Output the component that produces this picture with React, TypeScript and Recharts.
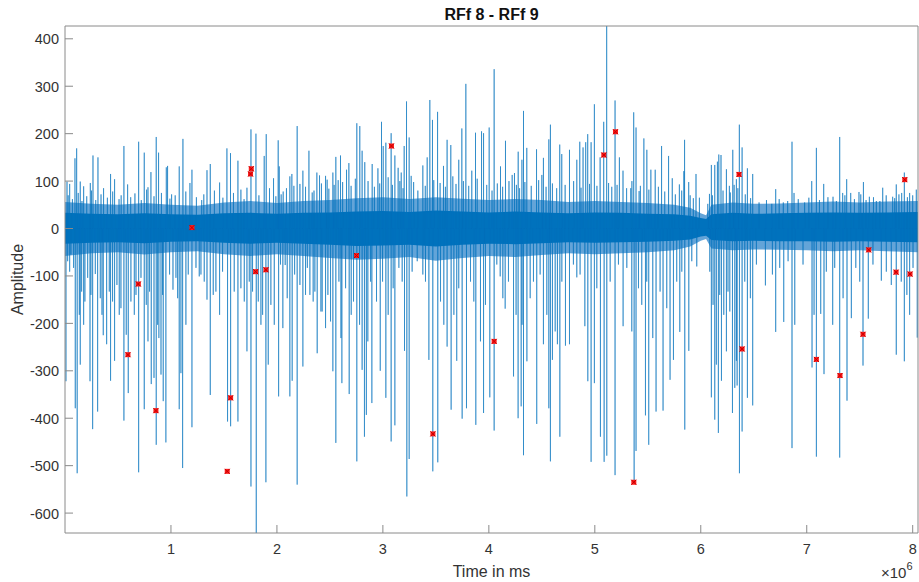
import React from 'react';
import { ComposedChart, Line, Area, Scatter, XAxis, YAxis, ReferenceLine } from 'recharts';

// time values are in units of 10^6 ms (axis shows "x10^6")
const bandT = [0, 0.25, 0.5, 0.75, 1.0, 1.25, 1.5, 1.75, 2.0, 2.25, 2.5, 2.75, 3.0, 3.25, 3.5, 3.75, 4.0, 4.25, 4.5, 4.75, 5.0, 5.25, 5.5, 5.75, 5.9, 6.0, 6.05, 6.1, 6.3, 6.5, 6.75, 7.0, 7.25, 7.5, 7.75, 8.05];
const coreHi = [33, 31, 30, 32, 30, 29, 32, 33, 31, 33, 34, 36, 37, 35, 38, 36, 34, 36, 34, 32, 34, 33, 31, 30, 27, 22, 20, 30, 33, 31, 32, 33, 34, 33, 34, 35];
const coreLo = [-32, -30, -29, -31, -28, -27, -30, -32, -30, -32, -34, -37, -36, -34, -38, -34, -32, -33, -31, -29, -30, -29, -28, -26, -23, -17, -15, -24, -27, -26, -27, -27, -28, -27, -28, -29];
const fringeHi = [56, 52, 50, 54, 50, 48, 55, 58, 54, 58, 60, 64, 66, 62, 66, 63, 60, 62, 60, 56, 58, 56, 54, 50, 44, 32, 28, 50, 55, 52, 53, 55, 57, 55, 57, 58];
const fringeLo = [-58, -52, -50, -55, -50, -48, -54, -58, -54, -58, -62, -66, -64, -60, -68, -62, -58, -60, -56, -52, -54, -52, -50, -46, -38, -26, -22, -42, -46, -44, -45, -46, -48, -46, -48, -50];

const posT = [
  0.019, 0.044, 0.094, 0.110, 0.144, 0.176, 0.239, 0.264, 0.311, 0.364, 0.430, 0.468, 0.556, 0.591, 0.695, 0.748,
  0.783, 0.811, 0.861, 0.883, 0.956, 0.968, 1.006, 1.078, 1.113, 1.179, 1.198, 1.340, 1.371, 1.459, 1.528, 1.562,
  1.632, 1.717, 1.755, 1.802, 1.880, 1.899, 1.968, 2.012, 2.022, 2.059, 2.122, 2.141, 2.191, 2.217, 2.245, 2.302,
  2.333, 2.377, 2.402, 2.459, 2.474, 2.528, 2.556, 2.578, 2.600, 2.657, 2.679, 2.754, 2.782, 2.804, 2.829, 2.899,
  2.953, 2.987, 3.003, 3.028, 3.078, 3.113, 3.144, 3.173, 3.201, 3.223, 3.248, 3.267, 3.377, 3.418, 3.443, 3.468,
  3.516, 3.572, 3.606, 3.641, 3.716, 3.745, 3.783, 3.839, 3.874, 3.931, 3.950, 4.003, 4.050, 4.110, 4.157, 4.220,
  4.242, 4.277, 4.312, 4.327, 4.358, 4.450, 4.500, 4.515, 4.566, 4.581, 4.669, 4.688, 4.761, 4.830, 4.858, 4.889,
  4.914, 4.933, 4.965, 4.996, 5.050, 5.084, 5.112, 5.191, 5.232, 5.266, 5.339, 5.367, 5.389, 5.418, 5.463, 5.491,
  5.529, 5.570, 5.630, 5.696, 5.731, 5.798, 5.840, 5.847, 5.886, 5.955, 5.987, 6.066, 6.082, 6.100, 6.132, 6.157,
  6.170, 6.191, 6.242, 6.279, 6.302, 6.315, 6.336, 6.364, 6.390, 6.440, 6.490, 6.707, 6.779, 6.861, 6.880, 7.047,
  7.091, 7.160, 7.248, 7.311, 7.339, 7.377, 7.415, 7.493, 7.535, 7.591, 7.657, 7.717, 7.811, 7.845, 7.896, 7.921,
  7.971, 8.034,
];
const posV = [
  99, 94, 148, 169, 99, 89, 96, 154, 150, 85, 115, 104, 174, 93, 183, 160,
  87, 119, 193, 160, 129, 132, 72, 131, 189, 96, 124, 123, 136, 97, 169, 159,
  143, 86, 209, 200, 153, 199, 106, 186, 131, 78, 110, 115, 216, 94, 122, 164,
  76, 118, 112, 111, 103, 118, 151, 102, 154, 124, 138, 222, 216, 164, 140, 136,
  127, 225, 174, 181, 201, 154, 128, 118, 174, 268, 192, 111, 133, 150, 271, 229,
  246, 132, 187, 176, 145, 211, 305, 122, 202, 205, 201, 213, 336, 131, 185, 113,
  117, 162, 145, 248, 170, 167, 113, 149, 188, 219, 177, 157, 166, 145, 183, 171,
  182, 199, 182, 262, 150, 225, 470, 270, 150, 122, 85, 245, 213, 79, 190, 166,
  124, 124, 174, 153, 106, 93, 121, 187, 98, 115, 65, 52, 73, 134, 134, 141,
  156, 155, 125, 76, 166, 92, 104, 219, 171, 127, 115, 83, 55, 183, 75, 100,
  170, 94, 67, 193, 75, 104, 75, 77, 98, 67, 58, 86, 67, 93, 75, 118,
  75, 82,
];

// smaller upward excursions that thicken the fringe above the core
const medPosT = [
  0.03, 0.07, 0.125, 0.16, 0.205, 0.25, 0.29, 0.34, 0.40, 0.45, 0.51, 0.53, 0.62, 0.66, 0.72, 0.77,
  0.84, 0.91, 0.99, 1.04, 1.14, 1.24, 1.29, 1.31, 1.41, 1.49, 1.59, 1.66, 1.69, 1.83, 1.93, 1.99,
  2.04, 2.09, 2.16, 2.27, 2.35, 2.42, 2.49, 2.54, 2.62, 2.70, 2.74, 2.86, 2.92, 2.97, 3.05, 3.09,
  3.16, 3.19, 3.29, 3.33, 3.40, 3.48, 3.54, 3.59, 3.66, 3.69, 3.76, 3.81, 3.89, 3.98, 4.03, 4.08,
  4.13, 4.19, 4.26, 4.29, 4.34, 4.40, 4.47, 4.54, 4.60, 4.64, 4.72, 4.80, 4.87, 4.95, 5.02, 5.13,
  5.16, 5.21, 5.30, 5.35, 5.43, 5.51, 5.60, 5.66, 5.76, 5.82, 5.90, 5.93, 6.11, 6.21, 6.27, 6.35,
  6.42, 6.47, 6.55, 6.62, 6.67, 6.74, 6.82, 6.92, 6.98, 7.02, 7.12, 7.20, 7.28, 7.36, 7.45, 7.51,
  7.56, 7.63, 7.69, 7.75, 7.83, 7.87, 7.95, 8.00,
];
const medPosV = [
  70, 62, 75, 58, 68, 80, 60, 72, 65, 78, 62, 70, 66, 74, 60, 82,
  68, 75, 63, 70, 78, 66, 60, 72, 80, 65, 75, 82, 62, 70, 85, 68,
  72, 85, 90, 88, 80, 95, 84, 92, 98, 90, 105, 100, 88, 95, 108, 92,
  100, 85, 98, 80, 90, 102, 96, 88, 110, 94, 100, 90, 105, 92, 80, 95,
  88, 100, 92, 85, 98, 90, 102, 88, 95, 85, 92, 100, 86, 94, 90, 96,
  88, 92, 85, 100, 90, 82, 88, 78, 72, 80, 70, 64, 70, 80, 90, 85,
  72, 64, 55, 60, 52, 62, 58, 62, 55, 65, 60, 66, 58, 70, 62, 72,
  60, 66, 58, 70, 64, 72, 66, 70,
];

const negT = [
  0.009, 0.044, 0.097, 0.115, 0.135, 0.144, 0.176, 0.236, 0.261, 0.286, 0.308, 0.361, 0.393, 0.430, 0.468, 0.512,
  0.556, 0.578, 0.597, 0.654, 0.695, 0.748, 0.783, 0.814, 0.840, 0.861, 0.886, 0.906, 0.927, 0.952, 1.019, 1.078,
  1.094, 1.110, 1.141, 1.198, 1.267, 1.340, 1.371, 1.399, 1.459, 1.534, 1.563, 1.632, 1.717, 1.755, 1.805, 1.849,
  1.896, 1.918, 2.016, 2.056, 2.078, 2.122, 2.144, 2.191, 2.245, 2.270, 2.311, 2.380, 2.415, 2.459, 2.528, 2.556,
  2.604, 2.613, 2.682, 2.723, 2.754, 2.804, 2.826, 2.844, 2.896, 2.975, 3.028, 3.078, 3.113, 3.204, 3.226, 3.248,
  3.377, 3.434, 3.471, 3.518, 3.606, 3.644, 3.697, 3.748, 3.789, 3.877, 3.921, 3.950, 4.009, 4.050, 4.107, 4.154,
  4.233, 4.276, 4.305, 4.327, 4.359, 4.452, 4.515, 4.566, 4.581, 4.600, 4.647, 4.670, 4.723, 4.761, 4.830, 4.906,
  4.934, 4.965, 4.996, 5.053, 5.088, 5.113, 5.191, 5.267, 5.371, 5.389, 5.478, 5.509, 5.547, 5.578, 5.644, 5.710,
  5.742, 5.802, 5.849, 5.887, 5.962, 6.085, 6.100, 6.132, 6.147, 6.166, 6.195, 6.242, 6.274, 6.299, 6.321, 6.343,
  6.365, 6.390, 6.440, 6.490, 6.610, 6.707, 6.783, 6.861, 6.887, 7.050, 7.091, 7.132, 7.163, 7.245, 7.311, 7.380,
  7.421, 7.531, 7.581, 7.704, 7.845, 7.921, 7.971, 8.043,
];
const negV = [
  -322, -91, -379, -516, -182, -287, -203, -322, -423, -96, -386, -225, -244, -321, -279, -182,
  -405, -224, -347, -182, -514, -381, -238, -328, -315, -456, -231, -308, -364, -451, -129, -381,
  -305, -505, -203, -419, -101, -150, -351, -140, -182, -407, -417, -407, -259, -544, -660, -203,
  -535, -287, -354, -210, -77, -354, -321, -540, -291, -140, -140, -263, -175, -210, -301, -452,
  -231, -326, -349, -154, -491, -298, -439, -393, -368, -300, -357, -449, -415, -258, -565, -486,
  -97, -277, -512, -493, -249, -382, -279, -401, -379, -414, -238, -389, -356, -426, -101, -169,
  -312, -400, -375, -478, -280, -412, -244, -379, -491, -277, -244, -439, -247, -244, -103, -206,
  -322, -492, -326, -439, -492, -479, -520, -206, -535, -469, -394, -456, -231, -386, -384, -319,
  -277, -218, -424, -258, -80, -91, -356, -403, -287, -431, -321, -259, -175, -389, -336, -331,
  -516, -428, -357, -373, -120, -218, -197, -463, -203, -293, -481, -180, -307, -203, -483, -363,
  -189, -289, -190, -110, -266, -280, -182, -230,
];

// smaller downward excursions below the core
const medNegT = [
  0.025, 0.056, 0.081, 0.157, 0.188, 0.214, 0.245, 0.333, 0.349, 0.418, 0.449, 0.490, 0.528, 0.622, 0.670, 0.717,
  0.767, 0.798, 0.874, 0.921, 0.987, 1.047, 1.063, 1.163, 1.236, 1.283, 1.314, 1.424, 1.487, 1.597, 1.660, 1.692,
  1.739, 1.770, 1.824, 1.865, 1.943, 1.975, 2.034, 2.097, 2.167, 2.217, 2.287, 2.342, 2.358, 2.427, 2.481, 2.506,
  2.585, 2.648, 2.701, 2.780, 2.858, 2.884, 2.940, 2.997, 3.050, 3.097, 3.151, 3.182, 3.276, 3.324, 3.402, 3.544,
  3.575, 3.670, 3.716, 3.827, 3.858, 3.968, 4.075, 4.132, 4.185, 4.257, 4.314, 4.390, 4.421, 4.484, 4.547, 4.626,
  4.689, 4.798, 4.861, 5.019, 5.145, 5.223, 5.302, 5.349, 5.412, 5.443, 5.490, 5.616, 5.679, 5.773, 5.821, 5.915,
  6.116, 6.179, 6.217, 6.257, 6.336, 6.415, 6.468, 6.525, 6.676, 6.745, 6.824, 6.965, 7.069, 7.185, 7.264, 7.343,
  7.463, 7.500, 7.625, 7.751, 7.798, 7.892, 7.945, 8.003,
];
const medNegV = [
  -69, -55, -83, -133, -154, -104, -140, -147, -182, -133, -154, -119, -168, -154, -140, -104,
  -161, -133, -203, -140, -97, -104, -147, -97, -83, -97, -112, -133, -91, -133, -126, -154,
  -112, -133, -154, -182, -161, -203, -76, -147, -97, -119, -83, -154, -133, -175, -140, -196,
  -112, -126, -182, -203, -238, -112, -154, -112, -182, -126, -83, -112, -91, -69, -112, -154,
  -203, -182, -126, -112, -154, -161, -76, -147, -112, -182, -203, -147, -112, -97, -182, -217,
  -112, -76, -97, -126, -112, -76, -83, -217, -126, -161, -112, -133, -168, -112, -91, -69,
  -161, -140, -182, -133, -279, -112, -147, -76, -97, -83, -69, -76, -182, -91, -83, -147,
  -83, -112, -76, -91, -119, -112, -140, -83,
];

// red peak markers
const markT = [
  0.594, 0.692, 0.858, 1.198, 1.531, 1.563, 1.751, 1.758, 1.799, 1.896, 2.751, 3.081, 3.472,
  4.050, 5.085, 5.195, 5.368, 6.361, 6.390, 7.091, 7.314, 7.531, 7.585, 7.843, 7.925, 7.975,
];
const markV = [
  -266, -117, -384, 2, -512, -357, 115, 126, -91, -87, -57, 174, -433,
  -238, 155, 204, -535, 114, -254, -276, -310, -223, -45, -92, 103, -96,
];

const yTicks = [-600, -500, -400, -300, -200, -100, 0, 100, 200, 300, 400];
const xTicks = [1, 2, 3, 4, 5, 6, 7, 8];
const X_MAX = 8.05;
const Y_MIN = -642;
const Y_MAX = 427;

const BLUE = '#0072BD';
const AXIS = '#8a8a8a';
const TXT = '#333333';
const FONT = '"Liberation Sans", Arial, Helvetica, sans-serif';

const bandData = bandT.map((t, i) => ({ t, core: [coreLo[i], coreHi[i]], fringe: [fringeLo[i], fringeHi[i]] }));

const toSpikes = (ts: number[], vs: number[]) => ts.map((t, i) => ({ t, v: vs[i] }));
const spikes = [
  ...toSpikes(posT, posV),
  ...toSpikes(negT, negV),
  ...toSpikes(medPosT, medPosV),
  ...toSpikes(medNegT, medNegV),
].sort((a, b) => a.t - b.t);
const spikeData = spikes.flatMap((s) => [
  { t: s.t, v: 0 },
  { t: s.t, v: s.v },
  { t: s.t, v: 0 },
]);

const markerData = markT.map((t, i) => ({ t, v: markV[i] }));

const BottomTick = ({ x, y, payload }: any) => (
  <g>
    <line x1={x} x2={x} y1={y} y2={y - 8} stroke={AXIS} />
    <text x={x} y={y + 21} textAnchor="middle" fill={TXT} fontSize={14.5} fontFamily={FONT}>
      {payload.value}
    </text>
  </g>
);

const TopTick = ({ x, y }: any) => <line x1={x} x2={x} y1={y} y2={y + 8} stroke={AXIS} />;

const LeftTick = ({ x, y, payload }: any) => (
  <g>
    <line x1={x} x2={x + 8} y1={y} y2={y} stroke={AXIS} />
    <text x={x - 6} y={y + 5.5} textAnchor="end" fill={TXT} fontSize={14.5} fontFamily={FONT}>
      {payload.value}
    </text>
  </g>
);

const RightTick = ({ x, y }: any) => <line x1={x} x2={x - 8} y1={y} y2={y} stroke={AXIS} />;

const Marker = ({ cx, cy }: any) => (
  <g>
    <rect x={cx - 2.5} y={cy - 2.5} width={5} height={5} fill="#ff1a1a" />
    <path d={`M${cx - 2.5},${cy - 2.5}L${cx + 2.5},${cy + 2.5}M${cx - 2.5},${cy + 2.5}L${cx + 2.5},${cy - 2.5}`} stroke="#c00000" strokeWidth={1} />
  </g>
);

export default function App() {
  return (
    <div style={{ position: 'absolute', left: 0, top: 0, width: 919, height: 582, background: '#fff' }}>
      <ComposedChart width={919} height={582} margin={{ top: 26, right: 1, bottom: 0, left: 0 }}>
        <XAxis
          dataKey="t"
          type="number"
          domain={[0, X_MAX]}
          ticks={xTicks}
          interval={0}
          height={49}
          tickSize={0}
          tickMargin={0}
          tickLine={false}
          axisLine={{ stroke: AXIS }}
          tick={<BottomTick />}
          allowDataOverflow
        />
        <XAxis
          xAxisId="top"
          dataKey="t"
          type="number"
          orientation="top"
          domain={[0, X_MAX]}
          ticks={xTicks}
          interval={0}
          height={0}
          tickSize={0}
          tickMargin={0}
          tickLine={false}
          axisLine={{ stroke: AXIS }}
          tick={<TopTick />}
          allowDataOverflow
        />
        <YAxis
          type="number"
          domain={[Y_MIN, Y_MAX]}
          ticks={yTicks}
          interval={0}
          width={65}
          tickSize={0}
          tickMargin={0}
          tickLine={false}
          axisLine={{ stroke: AXIS }}
          tick={<LeftTick />}
          allowDataOverflow
        />
        <YAxis
          yAxisId="r"
          orientation="right"
          type="number"
          domain={[Y_MIN, Y_MAX]}
          ticks={yTicks}
          interval={0}
          width={0}
          tickSize={0}
          tickMargin={0}
          tickLine={false}
          axisLine={{ stroke: AXIS }}
          tick={<RightTick />}
          allowDataOverflow
        />
        <Area
          data={bandData}
          dataKey="fringe"
          type="linear"
          stroke="none"
          fill="#2f86cb"
          fillOpacity={0.75}
          isAnimationActive={false}
        />
        <Area
          data={bandData}
          dataKey="core"
          type="linear"
          stroke="none"
          fill={BLUE}
          fillOpacity={1}
          isAnimationActive={false}
        />
        <Line
          data={spikeData}
          dataKey="v"
          type="linear"
          stroke={BLUE}
          strokeWidth={0.7}
          strokeOpacity={0.8}
          dot={false}
          activeDot={false}
          isAnimationActive={false}
        />
        <ReferenceLine y={Y_MAX} stroke={AXIS} />
        <ReferenceLine x={X_MAX} stroke={AXIS} />
        <Scatter data={markerData} dataKey="v" shape={<Marker />} isAnimationActive={false} />
      </ComposedChart>
      <svg width={919} height={582} style={{ position: 'absolute', left: 0, top: 0, pointerEvents: 'none' }}>
        <text x={491.5} y={19.5} textAnchor="middle" fontSize={16} fontWeight="bold" fill="#111" fontFamily={FONT}>
          RFf 8 - RFf 9
        </text>
        <text
          x={0}
          y={0}
          transform="translate(23,279.5) rotate(-90)"
          textAnchor="middle"
          fontSize={16}
          fill={TXT}
          fontFamily={FONT}
        >
          Amplitude
        </text>
        <text x={491.5} y={577} textAnchor="middle" fontSize={16} fill={TXT} fontFamily={FONT}>
          Time in ms
        </text>
        <text x={881} y={578} fontSize={15} fill={TXT} fontFamily={FONT}>
          ×10<tspan dy={-8} fontSize={11}>6</tspan>
        </text>
      </svg>
    </div>
  );
}
